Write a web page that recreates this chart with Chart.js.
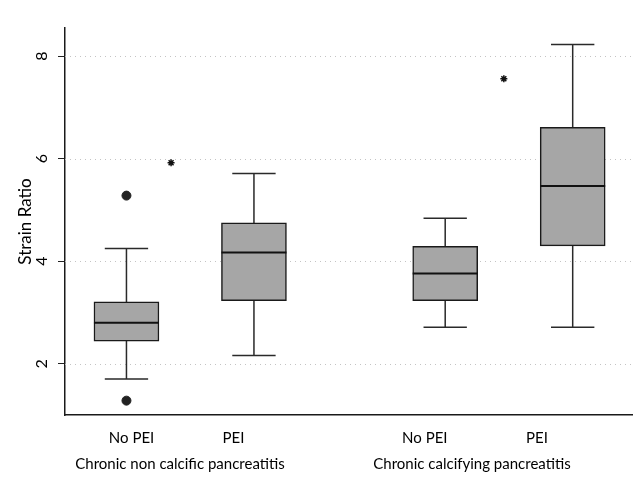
<!DOCTYPE html>
<html>
<head>
<meta charset="utf-8">
<script src="https://cdn.jsdelivr.net/npm/chart.js@4/dist/chart.umd.min.js"></script>
<style>
  html, body { margin: 0; padding: 0; background: #fff; }
  #wrap { width: 633px; height: 485px; }
</style>
</head>
<body>
<div id="wrap"><canvas id="strainChart"></canvas></div>
<script>
// Data
const groupNames = ['Chronic non calcific pancreatitis', 'Chronic calcifying pancreatitis'];
const groupLabelPos = [1.42, 3.71];
const boxLabels = ['No PEI', 'PEI', 'No PEI', 'PEI'];
const boxLabelPos = [1.04, 1.84, 3.34, 4.22];
const boxPos = [1, 2, 3.5, 4.5];
const whiskerLow = [1.70, 2.16, 2.71, 2.71];
const q1 = [2.44, 3.23, 3.23, 4.30];
const median = [2.80, 4.17, 3.76, 5.47];
const q3 = [3.21, 4.75, 4.29, 6.61];
const whiskerHigh = [4.25, 5.71, 4.84, 8.23];
const outlierX = [1, 1];
const outlierY = [5.28, 1.28];
const starX = [1.35, 3.96];
const starY = [5.92, 7.56];
const yTicks = [2, 4, 6, 8];

const FONT = 'Lato, "Open Sans", sans-serif';
const X_MIN = 0.518, X_MAX = 4.973;
const CAP_HALF = 0.17;

// whiskers + dotted grid under the boxes, medians and y labels on top
const boxPlot = {
    id: 'boxPlot',
    beforeDatasetsDraw(chart) {
        const { ctx, chartArea, scales: { x, y } } = chart;
        ctx.save();
        ctx.strokeStyle = '#c4c4c4';
        ctx.lineWidth = 1;
        ctx.setLineDash([1, 4]);
        yTicks.forEach(v => {
            const py = Math.round(y.getPixelForValue(v)) + 0.5;
            ctx.beginPath();
            ctx.moveTo(chartArea.left, py);
            ctx.lineTo(chartArea.right, py);
            ctx.stroke();
        });
        ctx.setLineDash([]);

        ctx.strokeStyle = '#2a2a2a';
        ctx.lineWidth = 1.5;
        boxPos.forEach((p, i) => {
            const px = x.getPixelForValue(p);
            const lo = y.getPixelForValue(whiskerLow[i]);
            const hi = y.getPixelForValue(whiskerHigh[i]);
            const cl = x.getPixelForValue(p - CAP_HALF);
            const cr = x.getPixelForValue(p + CAP_HALF);
            ctx.beginPath();
            ctx.moveTo(px, lo); ctx.lineTo(px, hi);
            ctx.moveTo(cl, lo); ctx.lineTo(cr, lo);
            ctx.moveTo(cl, hi); ctx.lineTo(cr, hi);
            ctx.stroke();
        });
        ctx.restore();
    },
    afterDatasetsDraw(chart) {
        const { ctx, scales: { y } } = chart;
        const meta = chart.getDatasetMeta(0);
        ctx.save();
        ctx.strokeStyle = '#111';
        ctx.lineWidth = 2;
        meta.data.forEach((bar, i) => {
            const py = y.getPixelForValue(median[i]);
            ctx.beginPath();
            ctx.moveTo(bar.x - bar.width / 2, py);
            ctx.lineTo(bar.x + bar.width / 2, py);
            ctx.stroke();
        });
        ctx.restore();
    },
    afterDraw(chart) {
        const { ctx, scales: { y } } = chart;
        ctx.save();
        ctx.fillStyle = '#000';
        ctx.font = '16px ' + FONT;
        ctx.textAlign = 'center';
        ctx.textBaseline = 'middle';
        yTicks.forEach(v => {
            ctx.save();
            ctx.translate(42, y.getPixelForValue(v));
            ctx.rotate(-Math.PI / 2);
            ctx.fillText(String(v), 0, 0);
            ctx.restore();
        });
        ctx.restore();
    }
};

// fixed height, no extra side padding on the bottom axes
const noSidePad = (scale, h) => {
    scale.height = h;
    scale.paddingLeft = 0;
    scale.paddingRight = 0;
};

new Chart(document.getElementById('strainChart'), {
    type: 'bar',
    data: {
        datasets: [
            {
                label: 'IQR',
                data: boxPos.map((p, i) => ({ x: p, y: [q1[i], q3[i]] })),
                backgroundColor: '#a6a6a6',
                borderColor: '#1a1a1a',
                borderWidth: 1.5,
                borderSkipped: false,
                barThickness: 65,
                order: 2
            },
            {
                type: 'scatter',
                label: 'Outliers',
                data: outlierX.map((v, i) => ({ x: v, y: outlierY[i] })),
                backgroundColor: '#222',
                borderColor: '#222',
                pointRadius: 4.5,
                order: 1
            },
            {
                type: 'scatter',
                label: 'Extremes',
                data: starX.map((v, i) => ({ x: v, y: starY[i] })),
                pointStyle: 'star',
                borderColor: '#111',
                borderWidth: 1.5,
                pointRadius: 3.5,
                order: 1
            }
        ]
    },
    options: {
        responsive: true,
        maintainAspectRatio: false,
        animation: false,
        layout: { autoPadding: false, padding: { top: 28, right: 0, bottom: 0, left: 0 } },
        plugins: {
            legend: { display: false },
            tooltip: { enabled: false }
        },
        scales: {
            x: {
                type: 'linear',
                position: 'bottom',
                offset: false,
                weight: 0,
                min: X_MIN,
                max: X_MAX,
                afterBuildTicks: (scale) => { scale.ticks = boxLabelPos.map(v => ({ value: v })); },
                afterFit: (scale) => noSidePad(scale, 30),
                grid: { display: false, drawTicks: false },
                border: { display: true, color: '#1a1a1a', width: 1.5 },
                ticks: {
                    padding: 14,
                    color: '#000',
                    font: { family: FONT, size: 15 },
                    maxRotation: 0,
                    autoSkip: false,
                    callback: (val, idx) => boxLabels[idx]
                }
            },
            x2: {
                type: 'linear',
                position: 'bottom',
                offset: false,
                weight: 1,
                min: X_MIN,
                max: X_MAX,
                afterBuildTicks: (scale) => { scale.ticks = groupLabelPos.map(v => ({ value: v })); },
                afterFit: (scale) => noSidePad(scale, 40),
                grid: { display: false, drawTicks: false },
                border: { display: false },
                ticks: {
                    padding: 10,
                    color: '#000',
                    font: { family: FONT, size: 15 },
                    maxRotation: 0,
                    autoSkip: false,
                    callback: (val, idx) => groupNames[idx]
                }
            },
            y: {
                min: 1,
                max: 8.55,
                afterBuildTicks: (scale) => { scale.ticks = yTicks.map(v => ({ value: v })); },
                afterFit: (scale) => { scale.width = 65; },
                grid: {
                    display: true,
                    drawOnChartArea: false,
                    drawTicks: true,
                    tickLength: 7,
                    tickColor: '#222',
                    tickWidth: 1
                },
                border: { display: true, color: '#1a1a1a', width: 1.5 },
                ticks: { display: false },
                title: {
                    display: true,
                    text: 'Strain Ratio',
                    color: '#000',
                    font: { family: FONT, size: 17 },
                    padding: { top: 15, bottom: 0 }
                }
            }
        }
    },
    plugins: [boxPlot]
});
</script>
</body>
</html>
